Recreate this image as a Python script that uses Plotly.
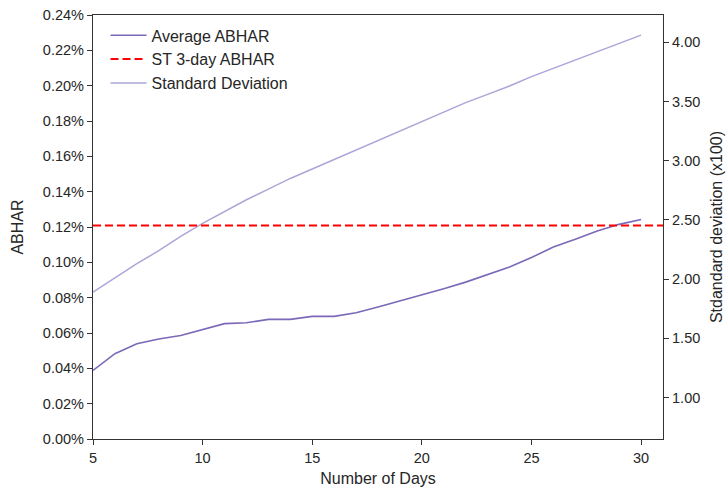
import plotly.graph_objects as go

days = list(range(5, 31))
avg_abhar = [0.0388, 0.0483, 0.0539, 0.0566, 0.0586, 0.0619, 0.0653, 0.0658, 0.0677, 0.0677,
             0.0694, 0.0694, 0.0715, 0.0747, 0.0781, 0.0817, 0.0851, 0.0888, 0.0932, 0.0973,
             0.1027, 0.1087, 0.1130, 0.1177, 0.1215, 0.1242]
std_dev = [1.89, 2.01, 2.13, 2.24, 2.36, 2.47, 2.57, 2.67, 2.76, 2.85,
           2.93, 3.01, 3.09, 3.17, 3.25, 3.33, 3.41, 3.49, 3.56, 3.63,
           3.71, 3.78, 3.85, 3.92, 3.99, 4.06]
st_3day_abhar = 0.1209

left_ticks = [0.00, 0.02, 0.04, 0.06, 0.08, 0.10, 0.12, 0.14, 0.16, 0.18, 0.20, 0.22, 0.24]
left_labels = [f"{v:.2f}%" for v in left_ticks]
right_ticks = [1.00, 1.50, 2.00, 2.50, 3.00, 3.50, 4.00]
right_labels = [f"{v:.2f}" for v in right_ticks]
x_ticks = [5, 10, 15, 20, 25, 30]

TXT = "#262626"
AX = "#333333"
FONT = "Liberation Sans, Arial, sans-serif"

fig = go.Figure()
fig.add_trace(go.Scatter(x=days, y=avg_abhar, mode="lines", name="Average ABHAR",
                         line=dict(color="#7b68b8", width=1.6), legendrank=1, legendgroup="a"))
fig.add_trace(go.Scatter(x=days, y=std_dev, mode="lines", name="Standard Deviation",
                         yaxis="y2", line=dict(color="#aaa6d8", width=1.5), legendrank=3,
                         legendgroup="c"))
fig.add_shape(type="line", xref="paper", x0=0, x1=1, yref="y", y0=st_3day_abhar, y1=st_3day_abhar,
              line=dict(color="#ff0000", width=2, dash="8px,4px"),
              showlegend=True, name="ST 3-day ABHAR", legendrank=2, legendgroup="b")

fig.update_layout(
    width=726, height=491,
    margin=dict(l=93, r=63, t=15, b=52),
    paper_bgcolor="white", plot_bgcolor="white",
    font=dict(family=FONT, size=14.5, color=TXT),
    showlegend=True,
    legend=dict(x=0.022, y=0.992, xanchor="left", yanchor="top",
                bgcolor="rgba(0,0,0,0)", font=dict(size=16, color=TXT),
                tracegroupgap=0, itemwidth=36),
    xaxis=dict(range=[5, 31.0], tickvals=x_ticks, showgrid=False, zeroline=False,
               showline=True, linecolor=AX, linewidth=1.3, mirror=True,
               ticks="outside", ticklen=5, tickcolor=AX, automargin=False,
               title=dict(text="Number of Days", standoff=8, font=dict(size=16))),
    yaxis=dict(range=[0, 0.24], tickvals=left_ticks, ticktext=left_labels,
               showgrid=False, zeroline=False, showline=True, linecolor=AX, linewidth=1.3,
               ticks="outside", ticklen=5, tickcolor=AX, automargin=False,
               title=dict(text="ABHAR", standoff=15, font=dict(size=16))),
    yaxis2=dict(range=[0.65, 4.23], tickvals=right_ticks, ticktext=right_labels,
                overlaying="y", side="right", showgrid=False, zeroline=False,
                showline=True, linecolor=AX, linewidth=1.3,
                ticks="outside", ticklen=5, tickcolor=AX, automargin=False,
                title=dict(text="Stdandard deviation (x100)", standoff=11, font=dict(size=16))),
)

fig.write_html("out.html")
